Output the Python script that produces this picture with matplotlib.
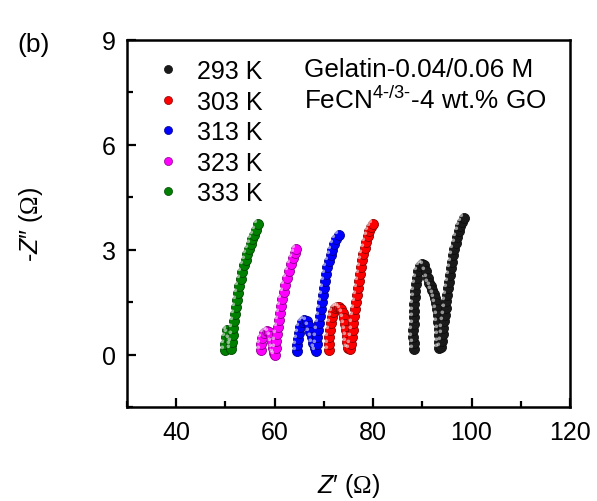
import matplotlib
matplotlib.use("Agg")
import matplotlib.pyplot as plt
import matplotlib.colors as mc
from matplotlib.path import Path
from matplotlib.lines import Line2D
from matplotlib.ticker import MultipleLocator

# ---------------- data ----------------
labels = ["293 K", "303 K", "313 K", "323 K", "333 K"]
colors = ["#1a1a1a", "#ff0000", "#0000ff", "#ff00ff", "#008000"]

x293 = [88.3, 88.25, 88.2, 88.2, 88.25, 88.3, 88.35, 88.4, 88.5, 88.6, 88.75, 88.9, 89.15, 89.5, 89.95, 90.4,
        90.8, 91.1, 91.4, 91.7, 92.0, 92.3, 92.6, 92.85, 93.0, 93.15, 93.25, 93.3, 93.3, 93.3, 93.35,
        93.7, 93.9, 94.1, 94.3, 94.45, 94.6, 94.75, 94.9, 95.05, 95.25, 95.4, 95.6, 95.8, 96.0, 96.25, 96.5,
        96.8, 97.1, 97.4, 97.75, 98.05, 98.4]
y293 = [0.15, 0.33, 0.51, 0.69, 0.88, 1.07, 1.26, 1.45, 1.64, 1.83, 2.02, 2.2, 2.38, 2.52, 2.6, 2.55,
        2.4, 2.2, 2.05, 1.95, 1.85, 1.74, 1.62, 1.47, 1.3, 1.12, 0.93, 0.74, 0.55, 0.36, 0.18,
        0.22, 0.4, 0.58, 0.76, 0.95, 1.14, 1.33, 1.52, 1.71, 1.9, 2.09, 2.28, 2.47, 2.66, 2.84, 3.02,
        3.2, 3.37, 3.53, 3.68, 3.8, 3.9]

x303 = [70.95, 71.0, 71.1, 71.2, 71.35, 71.6, 71.9, 72.3, 72.7, 73.1, 73.5, 73.85, 74.1, 74.3, 74.45, 74.6,
        74.75, 74.95, 75.3,
        75.55, 75.7, 75.85, 76.0, 76.15, 76.35, 76.5, 76.7, 76.9, 77.1, 77.3, 77.5, 77.75, 78.0, 78.3, 78.6,
        78.9, 79.25, 79.6, 79.9]
y303 = [0.12, 0.3, 0.5, 0.7, 0.9, 1.08, 1.22, 1.32, 1.36, 1.36, 1.3, 1.2, 1.05, 0.88, 0.7, 0.52,
        0.35, 0.2, 0.15,
        0.3, 0.5, 0.7, 0.9, 1.1, 1.3, 1.5, 1.7, 1.9, 2.1, 2.3, 2.5, 2.7, 2.88, 3.06, 3.23,
        3.38, 3.53, 3.66, 3.74]

x313 = [64.5, 64.55, 64.7, 64.9, 65.2, 65.6, 66.05, 66.5, 66.9, 67.2, 67.5, 67.8, 68.1, 68.35,
        68.55, 68.7, 68.85, 69.0, 69.15, 69.35, 69.55, 69.75, 69.95, 70.15, 70.4, 70.7, 71.0, 71.35,
        71.7, 72.1, 72.55, 73.0]
y313 = [0.09, 0.27, 0.45, 0.63, 0.8, 0.93, 0.99, 0.95, 0.82, 0.66, 0.5, 0.33, 0.18, 0.1,
        0.3, 0.5, 0.7, 0.9, 1.1, 1.3, 1.5, 1.7, 1.9, 2.1, 2.3, 2.5, 2.67, 2.84,
        3.0, 3.15, 3.3, 3.42]

x323 = [57.3, 57.3, 57.5, 57.9, 58.4, 58.9, 59.2, 59.4, 59.6, 59.9, 60.1,
        60.2, 60.35, 60.5, 60.65, 60.8, 61.0, 61.3, 61.55, 61.85, 62.15, 62.5, 62.9, 63.35, 63.75,
        64.05, 64.4]
y323 = [0.12, 0.3, 0.48, 0.62, 0.68, 0.66, 0.52, 0.36, 0.2, 0.05, 0.0,
        0.2, 0.4, 0.6, 0.8, 1.0, 1.2, 1.4, 1.6, 1.8, 2.0, 2.2, 2.4, 2.6, 2.75,
        2.9, 3.03]

x333 = [49.9, 49.95, 50.1, 50.3, 50.6, 50.85, 51.1, 51.2,
        51.3, 51.45, 51.6, 51.75, 51.9, 52.05, 52.3, 52.55, 52.8, 53.1, 53.4, 53.75, 54.1, 54.4,
        54.75, 55.1, 55.4, 55.8, 56.2, 56.7]
y333 = [0.12, 0.3, 0.5, 0.7, 0.62, 0.45, 0.28, 0.16,
        0.35, 0.55, 0.75, 0.95, 1.15, 1.35, 1.55, 1.75, 1.95, 2.15, 2.35, 2.55, 2.72, 2.88,
        3.03, 3.17, 3.31, 3.43, 3.55, 3.74]

series_x = [x293, x303, x313, x323, x333]
series_y = [y293, y303, y313, y323, y333]

xticks = [40, 60, 80, 100, 120]
yticks = [0, 3, 6, 9]

# ---------------- style ----------------
plt.rcParams['font.family'] = ['Liberation Sans', 'DejaVu Sans']
plt.rcParams['mathtext.fontset'] = 'custom'
plt.rcParams['mathtext.rm'] = 'Liberation Sans'
plt.rcParams['mathtext.it'] = 'Liberation Sans:italic'
plt.rcParams['mathtext.sf'] = 'Liberation Serif'
FS = 18

fig = plt.figure(figsize=(5.97, 5.02), dpi=100)
ax = fig.add_axes([127/597, 1-408/502, 443/597, 367/502])

# highlight marker: small circle offset to upper-left
hl = Path.circle(center=(-0.3, 0.3), radius=0.17)
ms = 7.2

def shade(c, f=0.55):
    r, g, b = mc.to_rgb(c)
    return (r*f, g*f, b*f)

for xs, ys, c, lab in zip(series_x, series_y, colors, labels):
    ax.plot(xs, ys, linestyle='none', marker='o', markersize=ms, markerfacecolor=c,
            markeredgecolor=shade(c), markeredgewidth=0.6, zorder=3)
    ax.plot(xs, ys, linestyle='none', marker=hl, markersize=ms, markerfacecolor='white',
            markeredgecolor='none', alpha=0.55, zorder=4)

ax.set_xlim(30, 120)
ax.set_ylim(-1.5, 9)
ax.set_xticks(xticks)
ax.set_yticks(yticks)
ax.xaxis.set_minor_locator(MultipleLocator(10))
ax.yaxis.set_minor_locator(MultipleLocator(1.5))
ax.tick_params(which='both', direction='in', top=False, right=False, width=1.6, labelsize=FS)
ax.tick_params(which='major', length=6.5)
ax.tick_params(which='minor', length=4)
ax.tick_params(axis='x', which='both', pad=9)
ax.tick_params(axis='y', which='both', pad=8)
for sp in ax.spines.values():
    sp.set_linewidth(1.8)

ax.set_xlabel(r"$Z$′ ($\mathsf{\Omega}$)", fontsize=FS, labelpad=20)
ax.set_ylabel(r"-$Z$″ ($\mathsf{\Omega}$)", fontsize=FS, labelpad=41)

handles = [Line2D([], [], linestyle='none', marker='o', markersize=5.8, markerfacecolor=c,
                  markeredgecolor=shade(c), markeredgewidth=0.5) for c in colors]
ax.legend(handles, labels, loc='upper left', bbox_to_anchor=(0.024, 0.999), frameon=False,
          fontsize=FS, handlelength=0.9, handletextpad=0.72, labelspacing=0.26,
          borderaxespad=0.35)

ax.text(0.4, 0.921, "Gelatin-0.04/0.06 M", transform=ax.transAxes, fontsize=18.8,
        ha='left', va='center')
ax.text(0.4, 0.837, r"FeCN$^{\text{4-/3-}}$-4 wt.% GO", transform=ax.transAxes, fontsize=18.8,
        ha='left', va='center')

fig.text(34/597, 1-45/502, "(b)", fontsize=19, ha='center', va='center')

fig.savefig("out.png", dpi=100)
